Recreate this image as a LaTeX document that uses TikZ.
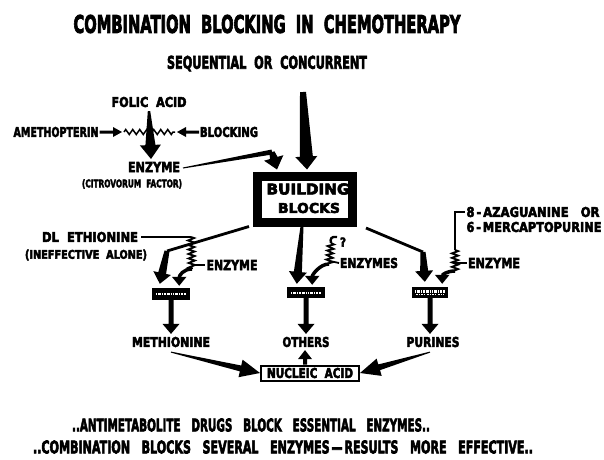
\documentclass[tikz,border=0pt]{standalone}
\usepackage{fontspec}
\setmainfont{DejaVu Sans}[BoldFeatures={FakeBold=4}]
\usetikzlibrary{calc,arrows.meta,decorations.pathmorphing}
\newcommand\fitt[3]{\resizebox{#1pt}{#2pt}{\bfseries #3}}
% tapered filled arrow: start, end, tail half-width, shaft half-width, head length, head half-width
\newcommand\tarr[6]{%
  \coordinate (tA) at (#1);
  \coordinate (tB) at (#2);
  \coordinate (tH) at ($(tB)!#5!(tA)$);
  \fill ($(tA)!#3!90:(tB)$) -- ($(tH)!#4!-90:(tA)$) -- ($(tH)!#6!-90:(tA)$) -- (tB)
     -- ($(tH)!#6!90:(tA)$) -- ($(tH)!#4!90:(tA)$) -- ($(tA)!#3!-90:(tB)$) -- cycle;}
\tikzset{
  lbl/.style={inner sep=0pt, outer sep=0pt},
  sbox/.style={fill=black, inner sep=0pt, minimum width=38pt, minimum height=12pt},
  speck/.style={white, line width=2.2pt, dash pattern=on 1.5pt off 1pt on 3pt off 0.8pt on 1pt off 1.2pt},
  spring/.style={line width=1.9pt, decorate, decoration={zigzag, segment length=4.5pt, amplitude=3pt}},
  wavy/.style={line width=1.5pt, decorate, decoration={zigzag, segment length=7pt, amplitude=2.5pt}},
  hookarr/.style={line width=3.5pt, -{Triangle[length=9pt,width=14pt]}},
  lead/.style={line width=1.8pt},
  stem/.style={line width=2.8pt}
}
\begin{document}
\begin{tikzpicture}[x=1pt,y=-1pt]
\useasboundingbox (0,0) rectangle (604,459);

% titles
\node[lbl] (title) at (267,24) {\fitt{387}{18}{COMBINATION\ \ BLOCKING\ \ IN\ \ CHEMOTHERAPY}};
\node[lbl] (sub) at (267,63.5) {\fitt{200}{13}{SEQUENTIAL\ \ OR\ \ CONCURRENT}};

% top folic acid block
\node[lbl] (folic) at (149,102) {\fitt{75}{10}{FOLIC\ \ ACID}};
\node[lbl] (ameth) at (56,132) {\fitt{85}{10}{AMETHOPTERIN}};
\node[lbl] (blk) at (229,132) {\fitt{58}{10}{BLOCKING}};
\node[lbl] (enz0) at (154,167) {\fitt{52}{10}{ENZYME}};
\node[lbl] (citro) at (132,184) {\fitt{100}{8}{(CITROVORUM\ \ FACTOR)}};
\coordinate (wl) at (122,132);
\coordinate (wr) at (177,132);
\draw[wavy] ($(wl)+(2,0)$) -- ($(wr)+(-2,0)$);
\tarr{$(ameth.east)+(1,0)$}{wl}{1.5pt}{1.5pt}{9pt}{5pt}
\tarr{$(blk.west)+(-1,0)$}{wr}{1.5pt}{1.5pt}{9pt}{5pt}
\tarr{$(folic.south)+(0,4)$}{$(enz0.north)+(-3,-3)$}{1.2pt}{5pt}{14pt}{10.5pt}

% building blocks
\node[draw=black, line width=9pt, fill=white, minimum width=95pt, minimum height=46pt, inner sep=0pt] (bb) at (305,199) {};
\node[lbl] (bbt1) at (308,189) {\fitt{83}{11}{BUILDING}};
\node[lbl] (bbt2) at (309,208) {\fitt{62}{10}{BLOCKS}};
\coordinate (topin) at (303,92);
\coordinate (bend1) at (272,152);
\tarr{$(enz0.east)+(3,1)$}{bend1}{0.5pt}{2.5pt}{0pt}{2.5pt}
\tarr{bend1}{$(bb.north west)+(24,-2)$}{2.5pt}{4pt}{12pt}{10pt}
\tarr{topin}{$(bb.north west)+(54,-2)$}{3pt}{6.5pt}{13pt}{11pt}

% small boxes
\node[sbox] (sbL) at (171,294) {};
\node[sbox, minimum height=11pt] (sbM) at (306,292.5) {};
\node[sbox, minimum width=36pt, minimum height=11pt] (sbR) at (430,292.5) {};
\draw[speck] ($(sbL.west)+(4,0)$) -- ($(sbL.east)+(-4,0)$);
\draw[speck] ($(sbM.west)+(4,0.5)$) -- ($(sbM.east)+(-4,0.5)$);
\draw[speck] ($(sbR.west)+(3,-1)$) -- ($(sbR.east)+(-3,-1)$);
\draw[white, line width=1pt, dash pattern=on 2pt off 1pt on 1pt off 1.5pt] ($(sbR.west)+(4,2)$) -- ($(sbR.east)+(-4,2)$);

% left branch
\node[lbl] (dl) at (90,237) {\fitt{96}{10}{DL\ \ ETHIONINE}};
\node[lbl] (inef) at (86,255) {\fitt{122}{9}{(INEFFECTIVE\ \ ALONE)}};
\node[lbl] (enzL) at (232,265) {\fitt{51}{10}{ENZYME}};
\coordinate (lb1) at (167,251);
\coordinate (ls0) at (191,237);
\coordinate (ls1) at (192,269);
\draw[stem] ($(bb.south west)+(-4,0)$) -- (lb1);
\tarr{lb1}{$(sbL.north west)+(8,-4)$}{2.5pt}{4pt}{11pt}{9pt}
\draw[lead] ($(dl.east)+(3,0)$) -- (ls0);
\draw[spring] (ls0) -- (ls1);
\draw[lead] ($(ls1)+(0,-4)$) -- ($(enzL.west)+(-2,0)$);
\draw[hookarr] (ls1) .. controls ($(ls1)+(-9,0)$) and ($(sbL.north east)+(-11,-12)$) .. ($(sbL.north east)+(-11,-2)$);

% middle branch
\node[lbl] (q) at (343,242) {\fitt{6}{9}{?}};
\node[lbl] (enzM) at (369,263) {\fitt{58}{10}{ENZYMES}};
\coordinate (ms0) at (331,243);
\coordinate (ms1) at (329,264);
\tarr{$(bb.south)+(-3,0)$}{$(sbM.north west)+(10,-3)$}{1.5pt}{4pt}{12pt}{9pt}
\draw[line width=2.4pt] (337,237) .. controls (331,236) and (330,239) .. (ms0);
\draw[spring] (ms0) -- (ms1);
\draw[lead] ($(ms1)+(1,-3)$) -- ($(enzM.west)+(-1,0)$);
\draw[hookarr] (ms1) .. controls ($(ms1)+(-9,0)$) and ($(sbM.north east)+(-13,-12)$) .. ($(sbM.north east)+(-13,-2)$);

% right branch
\node[lbl] (az) at (533,212) {\fitt{133}{10}{8\,-\,AZAGUANINE\ \ \ OR}};
\node[lbl] (mp) at (534,227) {\fitt{135}{10}{6\,-\,MERCAPTOPURINE}};
\node[lbl] (enzR) at (494,263) {\fitt{52}{10}{ENZYME}};
\coordinate (rb0) at (366,228);
\coordinate (rb1) at (423,252);
\coordinate (rs0) at (455,250);
\coordinate (rs1) at (455,271);
\draw[stem] (rb0) -- (rb1);
\tarr{rb1}{$(sbR.north west)+(13,-5)$}{2.5pt}{4pt}{11pt}{9pt}
\draw[lead] ($(az.west)+(-2,0)$) -| (rs0);
\draw[spring] (rs0) -- (rs1);
\draw[lead] ($(rs1)+(0,-8)$) -- ($(enzR.west)+(-1,0)$);
\draw[hookarr] (rs1) .. controls ($(rs1)+(-8,0)$) and ($(sbR.north east)+(-6,-12)$) .. ($(sbR.north east)+(-6,-3)$);

% products
\node[lbl] (meth) at (171,342) {\fitt{78}{10}{METHIONINE}};
\node[lbl] (oth) at (306,342) {\fitt{47}{10}{OTHERS}};
\node[lbl] (pur) at (433,342) {\fitt{53}{10}{PURINES}};
\tarr{sbL.south}{$(meth.north)+(0,-3)$}{2.5pt}{2.5pt}{10pt}{8.5pt}
\tarr{sbM.south}{$(oth.north)+(0,-3)$}{2.5pt}{2.5pt}{10pt}{8.5pt}
\tarr{sbR.south}{$(pur.north)+(-3,-3)$}{2.5pt}{2.5pt}{10pt}{8.5pt}

% nucleic acid
\node[draw=black, line width=2pt, minimum width=98pt, minimum height=15pt, inner sep=0pt] (nuc) at (310,373) {\fitt{86}{10}{NUCLEIC\ \ ACID}};
\tarr{$(meth.south)+(0,5)$}{nuc.west}{0.5pt}{3pt}{20pt}{9pt}
\tarr{$(pur.south)+(-3,5)$}{nuc.east}{0.5pt}{3pt}{20pt}{9pt}
\tarr{$(nuc.north)+(-5,0)$}{$(oth.south)+(-1,3)$}{2pt}{2pt}{9pt}{7pt}

% bottom text
\node[lbl] (b1) at (251,425) {\fitt{358}{13}{..ANTIMETABOLITE\ \ \ DRUGS\ \ \ BLOCK\ \ \ ESSENTIAL\ \ \ ENZYMES..}};
\node[lbl] (b2) at (283,447) {\fitt{500}{13}{..COMBINATION\ \ \ BLOCKS\ \ \ SEVERAL\ \ \ ENZYMES\,—\,RESULTS\ \ \ MORE\ \ \ EFFECTIVE..}};
\end{tikzpicture}
\end{document}
